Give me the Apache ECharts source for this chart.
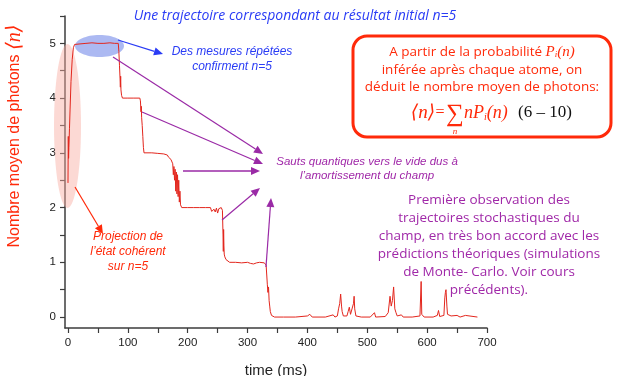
<!DOCTYPE html>
<html>
<head>
<meta charset="utf-8">
<script src="https://cdn.jsdelivr.net/npm/echarts@6/dist/echarts.min.js"></script>
<style>
  html, body { margin: 0; padding: 0; background: #fff; }
  #chart { width: 618px; height: 376px; }
</style>
</head>
<body>
<div id="chart"></div>
<script>
const trajTime = [
  0, 0.5, 1, 1.5, 2.5, 3.5, 5, 7, 9, 11, 14, 20, 30, 40, 50, 60, 70, 78, 84,
  85, 86, 87, 87.5, 88, 88.5, 89.5, 91, 100, 110, 120,
  121, 122, 122.5, 123, 124, 125, 126, 127, 140, 150, 160, 166,
  168, 170, 172, 174, 175, 176, 177, 178, 179, 180, 181, 182, 183, 184, 185, 186, 187, 188, 190,
  200, 210, 220, 230, 238, 240, 242, 244, 246, 248, 250, 252, 256, 258,
  259, 259.5, 260, 260.5, 261, 262, 264, 266, 270, 280, 290, 300, 305, 310, 315, 320, 328,
  331, 333, 334, 335, 336, 337, 338, 340, 345, 360, 380, 400, 404, 408, 430, 443, 446,
  450, 452, 454, 455.5, 457, 458, 460, 466, 468, 470, 472, 475, 477, 478, 479, 481, 490,
  505, 512, 514, 530, 535, 538, 540, 542, 544, 546, 548, 550, 557, 560, 575, 588, 590, 591,
  595, 610, 617, 619, 621, 628, 629.5, 630.5, 631.5, 633, 634, 640, 650, 655, 664, 667, 684
];
const trajPhotons = [
  2.45, 3.3, 2.9, 3.1, 3.45, 3.8, 4.3, 4.7, 4.92, 4.98, 5.0, 4.99, 5.0, 5.01, 5.0, 5.0, 5.01, 5.0, 5.0,
  4.85, 4.6, 4.35, 4.2, 4.4, 4.15, 4.05, 4.0, 4.0, 4.0, 4.0,
  3.95, 3.75, 3.85, 3.65, 3.5, 3.3, 3.1, 3.0, 3.0, 2.99, 2.98, 2.96,
  2.92, 2.94, 2.88, 2.85, 2.8, 2.6, 2.75, 2.5, 2.7, 2.3, 2.65, 2.25, 2.6, 2.2, 2.5, 2.1, 2.3, 2.05, 2.0,
  2.0, 2.0, 2.0, 2.0, 2.0, 1.93, 1.9, 1.97, 1.92, 1.99, 1.9, 1.98, 2.0, 1.95,
  1.5, 1.2, 1.6, 1.3, 1.15, 1.1, 1.05, 1.03, 1.0, 1.0, 0.99, 1.0, 0.98, 0.97, 0.99, 1.0, 0.99,
  0.95, 0.6, 0.45, 0.55, 0.3, 0.2, 0.1, 0.03, 0.0, 0.0, 0.0, 0.02, 0.05, 0.0, 0.0, 0.04, 0.0,
  0.02, 0.15, 0.25, 0.42, 0.2, 0.1, 0.02, 0.02, 0.1, 0.18, 0.05, 0.02, 0.25, 0.38, 0.15, 0.02, 0.0,
  0.0, 0.08, 0.0, 0.01, 0.08, 0.38, 0.2, 0.3, 0.55, 0.15, 0.08, 0.02, 0.04, 0.0, 0.0, 0.02, 0.65, 0.05,
  0.0, 0.0, 0.03, 0.12, 0.01, 0.03, 0.35, 0.45, 0.5, 0.2, 0.05, 0.02, 0.03, 0.0, 0.03, 0.0, 0.0
];

const xTickValues = [0, 50, 100, 150, 200, 250, 300, 350, 400, 450, 500, 550, 600, 650, 700];
const xLabelValues = [0, 100, 200, 300, 400, 500, 600, 700];
const yTickValues = [0, 0.5, 1, 1.5, 2, 2.5, 3, 3.5, 4, 4.5, 5, 5.5];
const yLabelValues = [0, 1, 2, 3, 4, 5];

const BLUE = '#2a3cf5';
const RED = '#ff2a0a';
const PURPLE = '#a028a8';
const ARROW_PURPLE = '#9a2aa6';
const COMIC = '"Open Sans", "DejaVu Sans", sans-serif';
const ARIAL = '"Liberation Sans", Arial, sans-serif';
const SERIF = '"Liberation Serif", "DejaVu Serif", serif';

function arrow(x1, y1, x2, y2, color, width, headLen, headHalf) {
  const a = Math.atan2(y2 - y1, x2 - x1);
  const bx = x2 - headLen * Math.cos(a);
  const by = y2 - headLen * Math.sin(a);
  const ox = -Math.sin(a) * headHalf;
  const oy = Math.cos(a) * headHalf;
  return [
    { type: 'line', z: 10, shape: { x1: x1, y1: y1, x2: bx, y2: by },
      style: { stroke: color, lineWidth: width } },
    { type: 'polygon', z: 10, shape: { points: [[x2, y2], [bx + ox, by + oy], [bx - ox, by - oy]] },
      style: { fill: color } }
  ];
}

function label(x, y, text, color, size, family, italic, extra) {
  return {
    type: 'text', x: x, y: y, z: 12,
    style: Object.assign({
      text: text, fill: color, fontSize: size, fontFamily: family,
      fontStyle: italic ? 'italic' : 'normal',
      align: 'center', verticalAlign: 'middle'
    }, extra || {})
  };
}

const chart = echarts.init(document.getElementById('chart'));

const graphics = [
  // highlight ellipses
  { type: 'ellipse', z: 1, shape: { cx: 67.5, cy: 126, rx: 13.5, ry: 82 },
    style: { fill: 'rgba(248, 170, 160, 0.45)' } },
  { type: 'ellipse', z: 1, shape: { cx: 99.5, cy: 46, rx: 24.5, ry: 11 },
    style: { fill: 'rgba(90, 115, 230, 0.5)' } },

  label(295, 16, 'Une trajectoire correspondant au résultat initial n=5', BLUE, 14, COMIC, true),

  label(232, 52, 'Des mesures répétées', BLUE, 12, ARIAL, true),
  label(232, 67, 'confirment n=5', BLUE, 12, ARIAL, true),

  label(367, 162, 'Sauts quantiques vers le vide dus à', PURPLE, 11.5, ARIAL, true),
  label(367, 176, 'l’amortissement du champ', PURPLE, 11.5, ARIAL, true),

  label(128, 237, 'Projection de', RED, 12, ARIAL, true),
  label(128, 252, 'l’état cohérent', RED, 12, ARIAL, true),
  label(128, 267, 'sur n=5', RED, 12, ARIAL, true),

  // y axis title
  {
    type: 'text', x: 15, y: 136, rotation: Math.PI / 2, z: 12,
    style: {
      text: '{a|Nombre moyen de photons }{b|⟨n⟩}',
      align: 'center', verticalAlign: 'middle',
      rich: {
        a: { fill: RED, fontSize: 16, fontFamily: ARIAL },
        b: { fill: RED, fontSize: 20, fontFamily: SERIF, fontStyle: 'italic' }
      }
    }
  },

  // red rounded box
  { type: 'rect', z: 11, shape: { x: 353, y: 36, width: 258, height: 101, r: 14 },
    style: { fill: '#fff', stroke: RED, lineWidth: 3 } },
  {
    type: 'text', x: 482, y: 52, z: 12,
    style: {
      text: '{t|A partir de la probabilité }{p|P}{s|i}{p|(n)}',
      align: 'center', verticalAlign: 'middle',
      rich: {
        t: { fill: RED, fontSize: 13.5, fontFamily: COMIC },
        p: { fill: RED, fontSize: 15, fontFamily: SERIF, fontStyle: 'italic' },
        s: { fill: RED, fontSize: 9, fontFamily: SERIF, fontStyle: 'italic', padding: [6, 0, 0, 0] }
      }
    }
  },
  label(482, 70, 'inférée après chaque atome, on', RED, 13.5, COMIC, false),
  label(482, 87.5, 'déduit le nombre moyen de photons:', RED, 13.5, COMIC, false),
  label(423, 113, '⟨n⟩', RED, 19, SERIF, true),
  label(440, 113, '=', RED, 16, SERIF, false),
  label(455, 114, '∑', RED, 25, SERIF, false),
  label(455, 132, 'n', RED, 9, SERIF, true),
  {
    type: 'text', x: 464, y: 113, z: 12,
    style: {
      text: '{p|nP}{s|i}{p|(n)}',
      align: 'left', verticalAlign: 'middle',
      rich: {
        p: { fill: RED, fontSize: 18, fontFamily: SERIF, fontStyle: 'italic' },
        s: { fill: RED, fontSize: 10, fontFamily: SERIF, fontStyle: 'italic', padding: [8, 0, 0, 0] }
      }
    }
  },
  label(545, 113, '(6 – 10)', '#111', 17, SERIF, false),

  // purple paragraph
  label(489, 245, 'Première observation des\ntrajectoires stochastiques du\nchamp, en très bon accord avec les\nprédictions théoriques (simulations\nde Monte- Carlo. Voir cours\nprécédents).',
    PURPLE, 13.5, COMIC, false, { lineHeight: 18 })
]
  .concat(arrow(118, 40, 163, 54, BLUE, 1.2, 9, 4))
  .concat(arrow(113, 57, 263, 154, ARROW_PURPLE, 1.2, 9, 4))
  .concat(arrow(142, 112, 263, 164, ARROW_PURPLE, 1.2, 9, 4))
  .concat(arrow(183, 171, 260, 171, ARROW_PURPLE, 1.6, 9, 4))
  .concat(arrow(222, 220, 260, 188, ARROW_PURPLE, 1.2, 9, 4))
  .concat(arrow(266, 267, 271, 198, ARROW_PURPLE, 1.2, 9, 4))
  .concat(arrow(75, 187, 103, 234, RED, 1.2, 9, 4));

const axisColor = '#3c3c3c';

const option = {
  animation: false,
  backgroundColor: '#fff',
  grid: { left: 65, right: 131, top: 16, bottom: 48, containLabel: false, outerBoundsMode: 'none' },
  xAxis: {
    type: 'value',
    min: -5,
    max: 700,
    name: 'time (ms)',
    nameLocation: 'middle',
    nameGap: 35,
    nameTextStyle: { color: '#222', fontSize: 15, fontFamily: ARIAL },
    axisLine: { onZero: false, lineStyle: { color: axisColor, width: 1.5 } },
    axisTick: { show: true, customValues: xTickValues, length: 5, lineStyle: { color: axisColor, width: 1.2 } },
    axisLabel: { customValues: xLabelValues, color: '#222', fontSize: 11.5, fontFamily: ARIAL, margin: 9 },
    splitLine: { show: false }
  },
  yAxis: {
    type: 'value',
    min: -0.2,
    max: 5.5,
    axisLine: { show: true, onZero: false, lineStyle: { color: axisColor, width: 1.5 } },
    axisTick: { show: true, customValues: yTickValues, length: 5, lineStyle: { color: axisColor, width: 1.2 } },
    axisLabel: { customValues: yLabelValues, color: '#222', fontSize: 11.5, fontFamily: ARIAL, margin: 9 },
    splitLine: { show: false }
  },
  series: [
    {
      name: 'trajectoire',
      type: 'line',
      data: trajTime.map((t, i) => [t, trajPhotons[i]]),
      showSymbol: false,
      z: 5,
      lineStyle: { color: '#e3261d', width: 1 }
    }
  ],
  graphic: graphics
};

chart.setOption(option);
</script>
</body>
</html>
